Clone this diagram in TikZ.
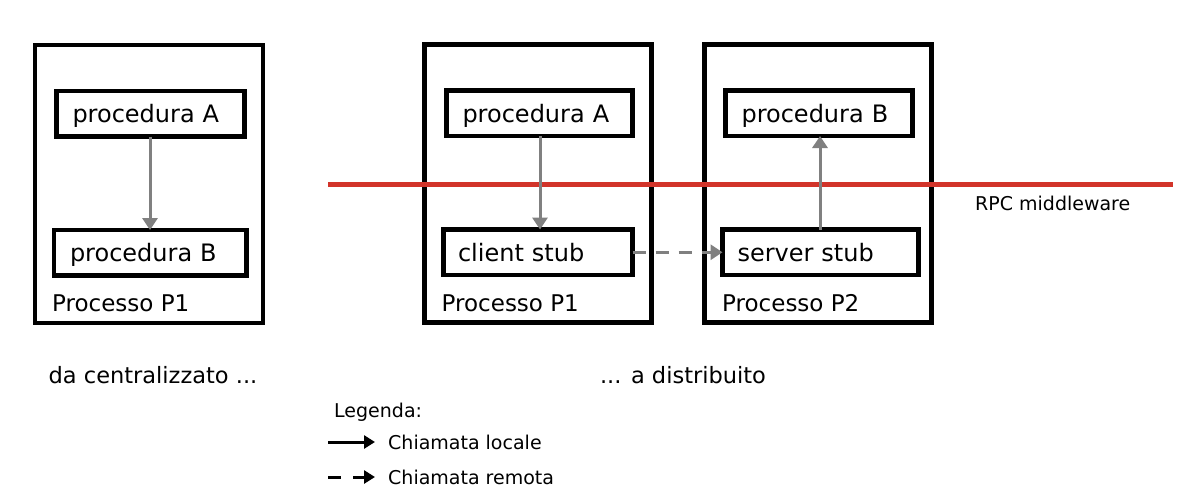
\documentclass[tikz,border=0pt]{standalone}
\usepackage{fontspec}
\setmainfont{DejaVu Sans}
\usetikzlibrary{positioning,arrows.meta}

\definecolor{rpcred}{RGB}{210,52,42}
\definecolor{callgray}{RGB}{128,128,128}

\tikzset{
    procbox/.style={draw, line width=4.5pt, outer sep=0pt, minimum height=278pt, minimum width=228pt, anchor=north west},
    callbox/.style={draw, line width=4.5pt, outer sep=0pt, minimum height=45.5pt, text width=#1, text depth=0pt, inner xsep=16pt, align=left, anchor=north west, font=\fontsize{24}{28}\selectfont},
    plabel/.style={anchor=west, inner sep=0pt, font=\fontsize{23}{27}\selectfont},
    small/.style={anchor=west, inner sep=0pt, font=\fontsize{19}{22}\selectfont},
    call/.style={line width=3pt, -{Triangle[length=12pt,width=15pt]}},
}

\begin{document}
\begin{tikzpicture}[x=1pt,y=-1pt]
        \useasboundingbox (0,0) rectangle (1185,496);
        % da centralizzato
        \node[procbox] (p1c) at (35,45) {};
        \node[callbox=156pt] (procAc) at (56.5,91) {procedura A};
        \node[callbox=160.5pt] (procBc) at (54,230) {procedura B};
        \node[plabel] (lblc) at (52,303) {Processo P1};
        \draw[call, callgray] (procAc.south -| 150,0) -- (procBc.north -| 150,0);
        % a distribuito
        \node[procbox, minimum width=227pt] (p1d) at (424.5,44.5) {};
        \node[procbox, minimum width=227pt] (p2d) at (704.5,44.5) {};
        \draw[rpcred, line width=5pt] (328,184) coordinate (mwl) -- (1173,184) coordinate (mwr);
        \node[small] (mw) at (975,203) {RPC middleware};
        \node[callbox=154pt] (procAd) at (446.5,90.5) {procedura A};
        \node[callbox=160pt, inner xsep=14.5pt] (cstub) at (443.5,229.5) {client stub};
        \node[plabel] (lbl1) at (441.5,303) {Processo P1};
        \node[callbox=155pt] (procBd) at (725.5,90.5) {procedura B};
        \node[callbox=166pt, inner xsep=15pt] (sstub) at (722.5,229.5) {server stub};
        \node[plabel] (lbl2) at (722,303) {Processo P2};
        \draw[call, callgray] (procAd.south -| 540,0) -- (cstub.north -| 540,0);
        \draw[call, callgray] (sstub.north -| 820,0) -- (procBd.south -| 820,0);
        \draw[call, callgray, dash pattern=on 13pt off 10pt] (cstub.east) -- (sstub.west);
        % didascalie
        \node[font=\fontsize{22.5}{26}\selectfont] (capc) at (153,375) {da centralizzato ...};
        \node[font=\fontsize{22.5}{26}\selectfont] (capd) at (683,375) {... a distribuito};
        % legenda
        \node[small] (leg) at (334,412) {Legenda:};
        \coordinate (l1) at (328,442);
        \node[small] (loc) at (388,442) {Chiamata locale};
        \coordinate (l2) at (328,477);
        \node[small] (rem) at (388,477) {Chiamata remota};
        \draw[line width=3pt, -{Triangle[length=11pt,width=13pt]}] (l1) -- ([xshift=-13pt]loc.west);
        \draw[line width=3pt, -{Triangle[length=11pt,width=13pt]}, dash pattern=on 13pt off 12pt] (l2) -- ([xshift=-13pt]rem.west);
    \end{tikzpicture}
\end{document}
